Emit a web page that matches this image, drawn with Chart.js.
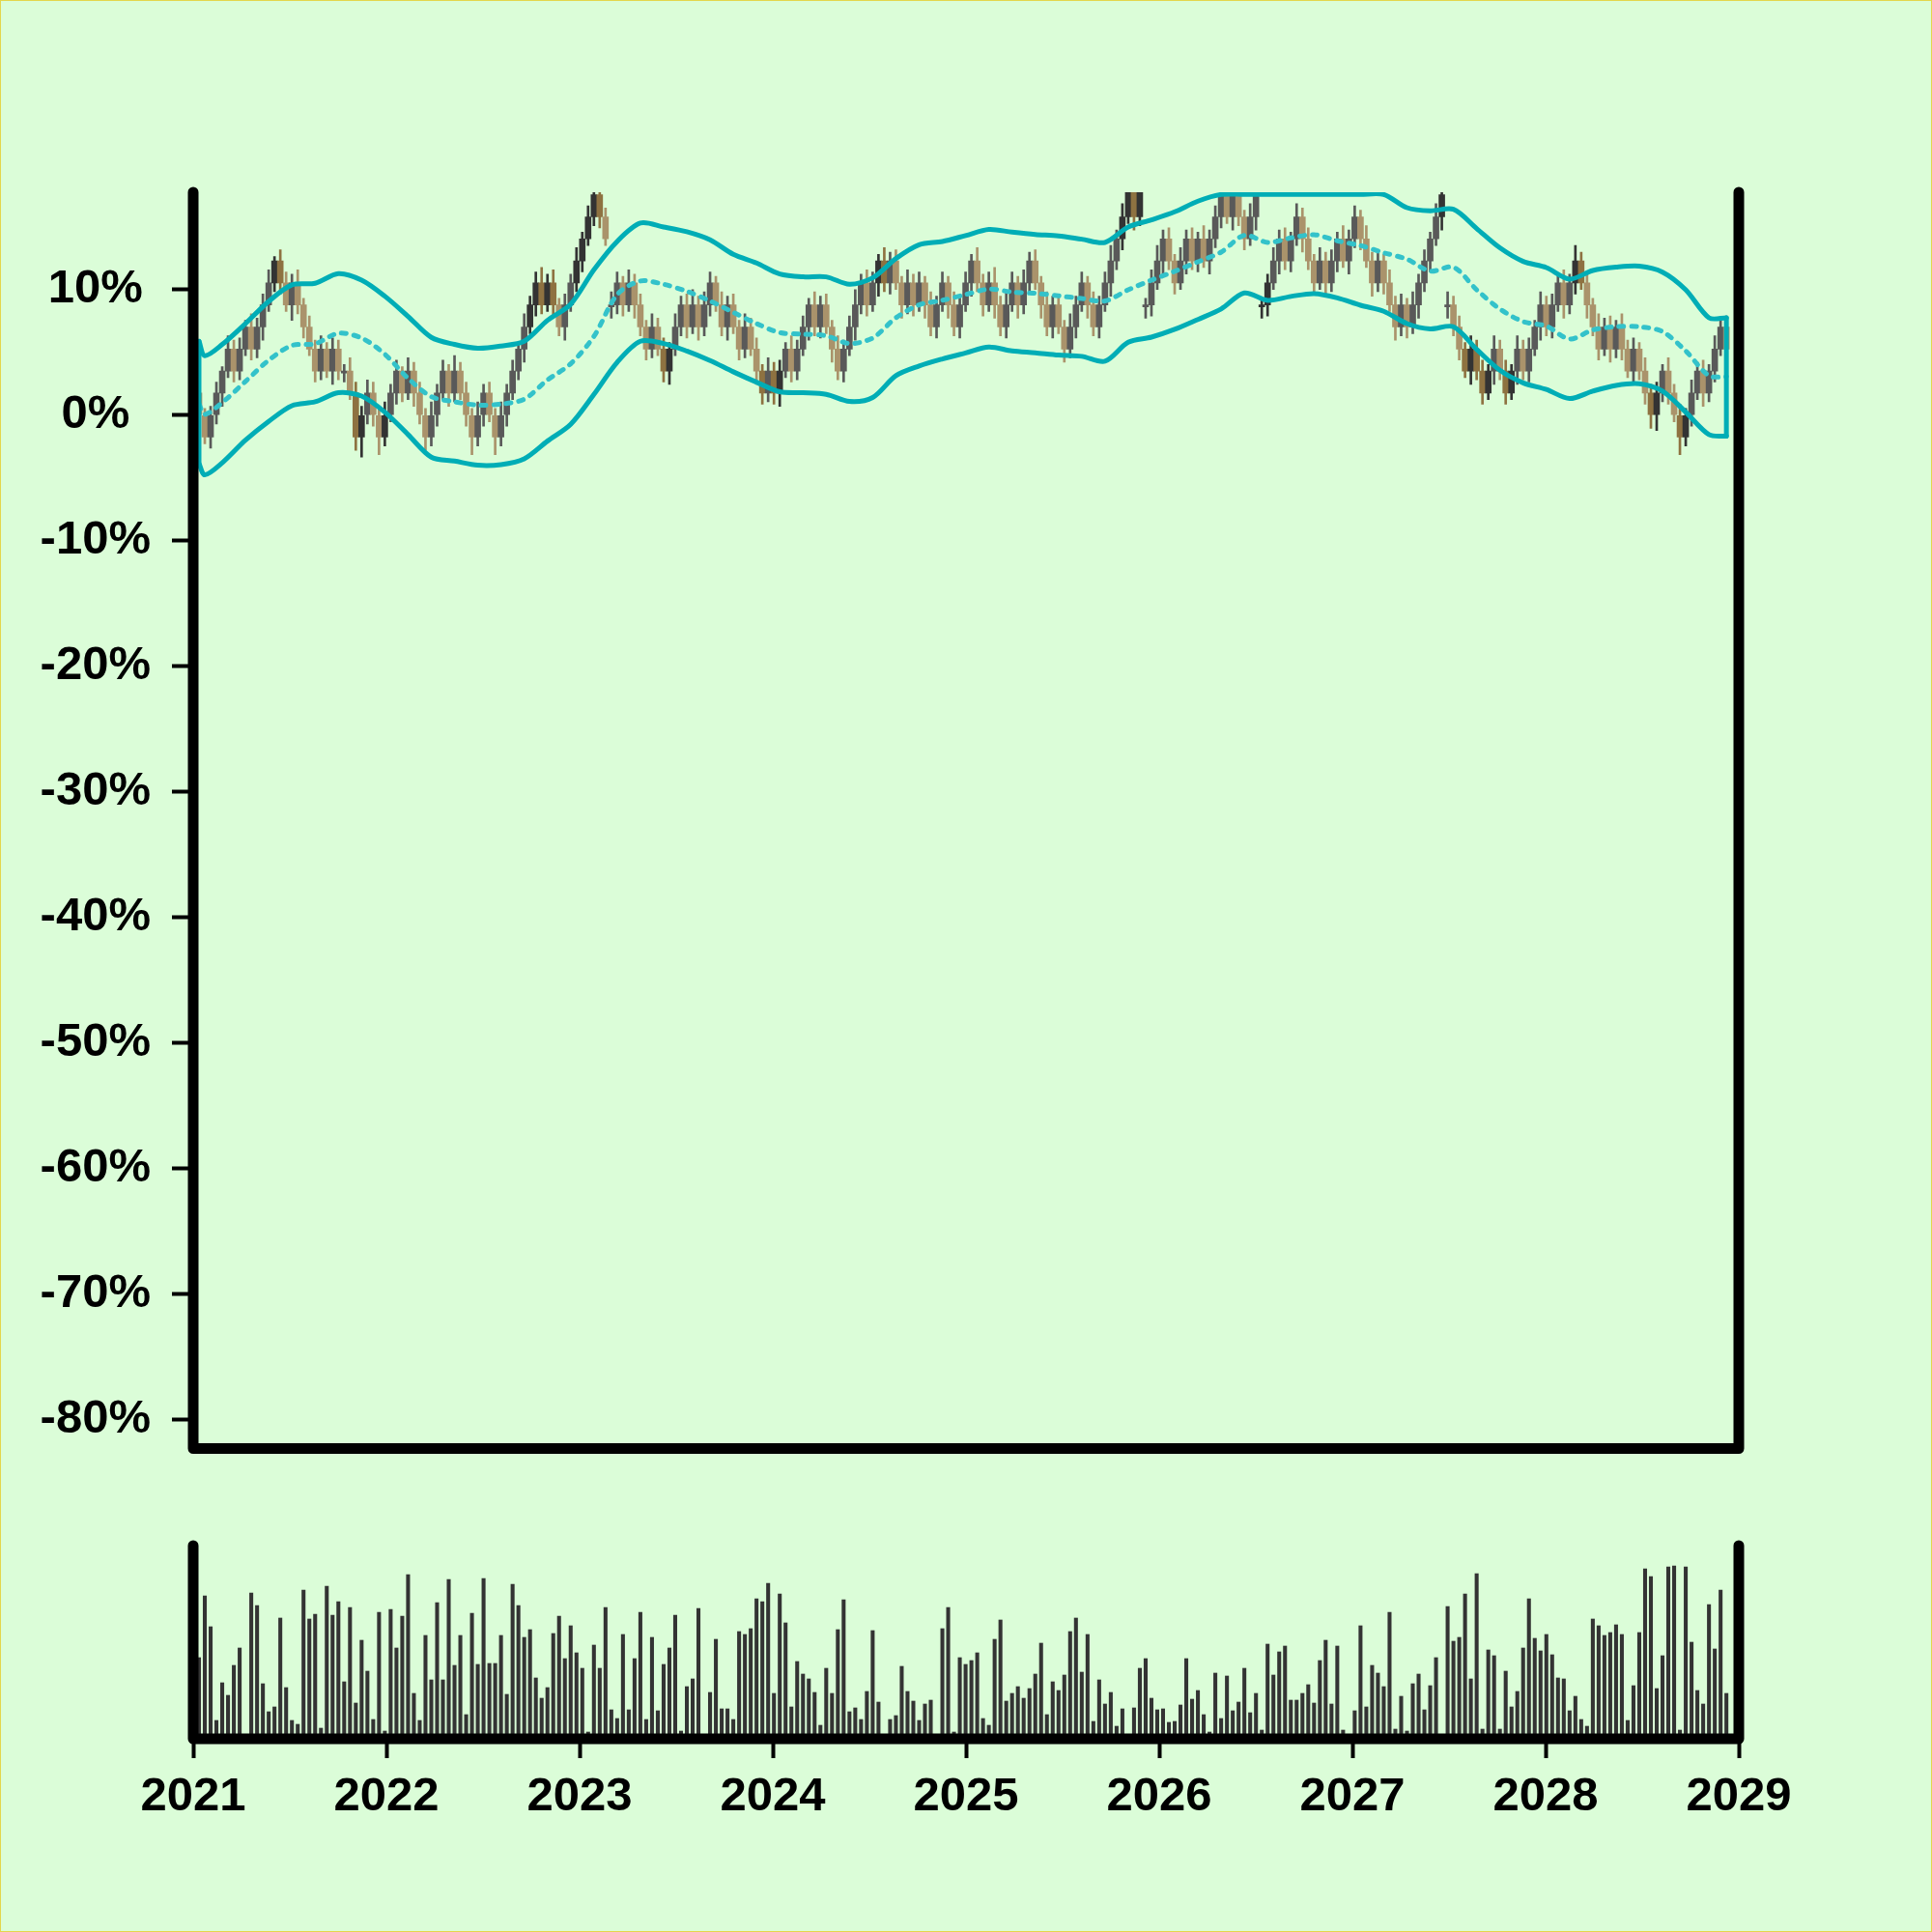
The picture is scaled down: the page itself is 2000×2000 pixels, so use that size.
<!DOCTYPE html>
<html>
<head>
<meta charset="utf-8">
<script src="https://cdn.jsdelivr.net/npm/chart.js@4.4.1/dist/chart.umd.min.js"></script>
<style>
  html, body { margin: 0; padding: 0; background: #dbfdd8; }
  #frame { position: relative; width: 2000px; height: 2000px; overflow: hidden; background: #dbfdd8; }
  #frame canvas { position: absolute; left: 0; }
  #edge { position: absolute; left: 0; top: 0; width: 2000px; height: 2000px; box-sizing: border-box; border: 1px solid #e3d64c; pointer-events: none; }
</style>
</head>
<body>
<div id="frame">
  <canvas id="priceChart" width="2000" height="1560" style="top:0"></canvas>
  <canvas id="volumeChart" width="2000" height="440" style="top:1560px"></canvas>
  <div id="edge"></div>
</div>
<script>
// ---- data ----
const BASE_PRICE = 57;          // price that maps to 0%
const FIRST_DATE = 2021.03;     // decimal year of first bar
const STEP = 0.03006;           // about 11 days between bars

const openPrice = [
  58,57,56,57,58,59,60,59,60,61, 60,61,62,63,64,63,62,63,62,61,
  60,59,60,59,60,59,59,58,56,57, 58,57,56,57,58,59,58,59,58,57,
  56,57,58,59,58,59,58,57,56,57, 58,57,56,57,58,59,60,61,62,63,
  62,63,62,61,62,63,64,65,66,67, 66,62,62,63,62,63,62,61,60,61,
  60,59,60,61,62,61,62,61,62,63, 62,61,62,61,60,61,60,59,58,59,
  58,59,60,59,60,61,62,61,62,61, 60,59,60,61,62,63,62,63,64,63,
  64,63,62,63,62,63,62,61,62,63, 62,61,62,63,64,63,62,63,62,61,
  62,63,62,63,64,63,62,61,62,61, 60,61,62,63,62,61,62,63,64,65,
  66,68,66,62,62,63,64,65,64,63, 64,65,64,65,64,65,66,67,66,67,
  66,65,66,62,62,63,64,65,64,65, 66,65,64,63,64,63,64,65,64,65,
  66,65,64,63,64,63,62,61,62,61, 62,63,64,65,66,62,62,61,60,59,
  60,59,58,59,60,59,58,59,60,59, 60,61,62,61,62,63,62,63,64,63,
  62,61,60,61,60,61,60,59,60,59, 58,57,58,59,58,57,56,57,58,59,
  58,59,60,61
];
const closePrice = [
  57,56,57,58,59,60,59,60,61,60, 61,62,63,64,63,62,63,62,61,60,
  59,60,59,60,59,59,58,56,57,58, 57,56,57,58,59,58,59,58,57,56,
  57,58,59,58,59,58,57,56,57,58, 57,56,57,58,59,60,61,62,63,62,
  63,62,61,62,63,64,65,66,67,66, 65,62,63,62,63,62,61,60,61,60,
  59,60,61,62,61,62,61,62,63,62, 61,62,61,60,61,60,59,58,59,58,
  59,60,59,60,61,62,61,62,61,60, 59,60,61,62,63,62,63,64,63,64,
  63,62,63,62,63,62,61,62,63,62, 61,62,63,64,63,62,63,62,61,62,
  63,62,63,64,63,62,61,62,61,60, 61,62,63,62,61,62,63,64,65,66,
  68,66,68,62,63,64,65,64,63,64, 65,64,65,64,65,66,67,66,67,66,
  65,66,67,62,63,64,65,64,65,66, 65,64,63,64,63,64,65,64,65,66,
  65,64,63,64,63,62,61,62,61,62, 63,64,65,66,67,62,61,60,59,60,
  59,58,59,60,59,58,59,60,59,60, 61,62,61,62,63,62,63,64,63,62,
  61,60,61,60,61,60,59,60,59,58, 57,58,59,58,57,56,57,58,59,58,
  59,60,61,60
];
// wick length above / below the body, in tenths of a price unit
const wickUp = [
  6,3,4,5,2,6,4,5,3,6, 4,5,6,2,5,5,4,6,3,5,
  4,6,3,5,4,3,6,5,4,6, 5,3,6,4,5,2,6,4,5,3,
  6,4,5,3,7,4,5,3,6,4, 5,3,6,4,5,3,6,4,5,7,
  4,6,3,5,4,6,3,5,2,3, 4,6,5,3,6,4,5,3,6,4,
  5,3,6,4,5,7,4,6,5,3, 6,4,5,3,6,4,5,3,6,4,
  5,3,6,4,5,3,6,4,5,3, 6,4,5,7,4,6,5,3,6,4,
  5,3,6,4,5,3,6,4,5,3, 6,4,5,3,6,4,5,7,4,6,
  5,3,6,4,5,3,6,4,5,3, 6,4,5,3,6,4,5,7,4,6,
  5,3,6,3,6,7,4,5,3,6, 4,5,3,6,4,5,3,6,4,5,
  3,6,4,3,4,6,4,5,3,6, 4,5,3,6,4,5,3,6,4,5,
  3,6,4,5,3,6,4,5,3,6, 4,5,3,6,4,6,4,5,3,6,
  4,5,3,6,4,5,3,6,4,5, 3,6,4,5,3,6,4,7,4,5,
  3,6,4,5,3,6,4,5,3,6, 4,5,3,6,4,5,3,6,4,5,
  3,6,4,5
];
const wickDown = [
  4,3,5,4,6,3,5,4,3,5, 4,6,3,4,5,3,7,4,5,3,
  5,4,3,6,4,5,3,6,9,4, 5,8,4,3,5,4,3,6,4,6,
  4,5,3,6,4,3,5,8,4,5, 3,8,4,5,3,4,6,3,5,4,
  3,5,4,6,3,4,5,3,4,5, 3,6,4,5,3,6,4,5,4,3,
  5,6,3,4,5,3,6,4,5,3, 4,6,3,5,4,3,6,5,4,5,
  6,3,5,4,3,6,4,5,3,6, 4,5,3,6,4,5,3,6,4,5,
  3,6,4,5,3,6,4,5,3,6, 4,5,3,6,4,5,3,6,4,5,
  3,6,4,5,3,6,4,5,3,6, 4,5,3,6,4,5,3,6,4,5,
  3,6,4,6,5,3,6,4,5,3, 6,4,5,3,6,4,5,3,6,4,
  5,3,6,6,5,3,6,4,5,3, 6,4,5,3,6,4,5,3,6,4,
  5,3,6,4,5,3,6,4,5,3, 6,4,5,3,6,6,4,5,3,6,
  4,5,3,6,4,5,3,6,4,5, 3,6,4,5,3,6,4,5,3,6,
  4,5,3,6,4,5,3,6,4,5, 6,7,4,5,3,8,4,5,3,6,
  4,5,3,6
];
const volume = [
  84,148,116,19,58,45,76,94,0,151, 138,57,28,33,125,53,19,15,154,124,
  129,11,158,128,142,59,136,37,102,70, 20,131,8,134,94,127,170,47,19,107,
  61,141,61,165,76,107,25,130,77,166, 78,78,107,46,160,138,105,113,63,42,
  53,109,127,83,117,89,73,7,97,73, 136,30,21,108,30,83,131,20,105,29,
  77,94,128,8,54,62,135,0,48,103, 31,31,20,111,108,114,145,142,161,47,
  150,120,33,80,67,62,48,14,73,47, 113,144,28,32,20,49,112,38,0,20,
  24,75,49,39,19,36,40,0,114,136, 7,84,77,81,89,21,14,103,123,39,
  47,54,42,52,67,99,25,59,50,66, 111,125,69,108,18,61,36,48,13,31,
  0,32,73,83,42,30,31,17,18,35, 83,41,50,25,7,68,21,65,29,38,
  73,27,47,9,98,66,90,96,40,40, 47,56,37,81,102,36,96,9,0,29,
  117,33,76,68,54,131,10,44,8,57, 67,30,55,84,0,137,101,105,150,62,
  171,10,92,86,10,70,33,49,94,145, 104,91,108,87,63,62,29,44,20,13,
  124,117,107,110,118,108,19,55,110,176, 168,52,86,178,179,9,178,100,50,36,
  139,93,154,47
];
// bars drawn in the darker shade (close outside the band)
const outsideBand = [13,14,27,28,32,57,58,59,60,61,65,66,67,68,69,80,81,97,99,100,
  117,118,159,160,161,162,183,184,214,218,219,220,221,222,225,226,237,238,250,251,255,256];

// band read at these bar indices (values in %)
const bandAt = [0,1,4,8,12,16,20,24,28,32,36,40,44,48,52,56,60,64,68,72,76,80,84,88,92,96,
  100,104,108,112,116,120,124,128,132,136,140,144,148,152,156,160,164,168,172,176,180,184,
  188,192,196,200,204,208,212,216,220,224,228,232,236,240,244,248,252,256,260,263];
const bandUpper = [5.88,4.73,5.63,7.29,9.06,10.37,10.5,11.27,10.75,9.47,7.86,6.19,5.63,5.32,5.5,
  5.88,7.55,8.83,11.57,13.83,15.29,14.98,14.6,13.96,12.8,12.11,11.24,11.01,11.01,10.42,10.93,
  12.47,13.57,13.83,14.3,14.78,14.57,14.39,14.27,14.01,13.75,14.98,15.55,16.19,17.04,17.6,18.9,
  18.36,18.77,19.06,18.42,18.25,17.59,16.52,16.27,16.39,14.86,13.32,12.24,11.75,10.83,11.52,
  11.78,11.86,11.39,9.98,7.75,7.75];
const bandMiddle = [0.88,0.06,1.0,2.68,4.37,5.55,5.68,6.52,6.14,4.85,2.93,1.47,1.06,0.8,0.88,
  1.27,2.8,4.09,6.27,9.6,10.68,10.42,9.86,9.09,8.19,7.29,6.57,6.45,6.32,5.7,6.14,7.75,8.78,
  9.14,9.6,10.04,9.8,9.7,9.5,9.29,9.09,9.98,10.75,11.45,12.21,12.98,14.32,13.75,14.11,14.37,
  13.88,13.5,12.93,12.42,11.47,11.78,9.98,8.45,7.45,7.09,6.06,6.78,7.04,7.04,6.65,5.11,3.14,3.06];
const bandLower = [-3.86,-4.76,-3.8,-2.0,-0.5,0.75,1.06,1.78,1.52,0.24,-1.55,-3.35,-3.66,-3.99,
  -3.94,-3.48,-2.07,-0.73,1.65,4.2,5.88,5.7,5.1,4.34,3.45,2.62,1.86,1.78,1.65,1.09,1.4,3.14,
  3.91,4.47,4.95,5.42,5.11,4.96,4.78,4.68,4.29,5.8,6.21,6.83,7.62,8.45,9.73,9.14,9.45,9.68,
  9.34,8.75,8.27,7.29,6.86,7.04,5.24,3.57,2.57,2.04,1.32,1.91,2.37,2.5,1.91,0.24,-1.55,-1.68];

const yTicks = [10, 0, -10, -20, -30, -40, -50, -60, -70, -80];
const xTicks = [2021, 2022, 2023, 2024, 2025, 2026, 2027, 2028, 2029];

// ---- build ----
const Y_MIN = -82.3, Y_MAX = 17.75;
const FONT = { family: 'Liberation Sans', weight: 'bold', size: 49 };

const toPct = p => (p / BASE_PRICE - 1) * 100;
const dates = closePrice.map((_, i) => FIRST_DATE + i * STEP);
const isDark = new Set(outsideBand);

const candleColor = closePrice.map((c, i) => {
  const up = c >= openPrice[i];
  if (isDark.has(i)) return up ? '#333333' : '#8e7241';
  return up ? '#595959' : '#aa936b';
});

const bodies = dates.map((t, i) => ({ x: t, y: [toPct(openPrice[i]), toPct(closePrice[i])] }));
const wicks = dates.map((t, i) => {
  const hi = Math.max(openPrice[i], closePrice[i]) + wickUp[i] / 10;
  const lo = Math.min(openPrice[i], closePrice[i]) - wickDown[i] / 10;
  return { x: t, y: [toPct(lo), toPct(hi)] };
});

const topLine = Y_MAX - 0.18;
const upperPts = bandAt.map((i, j) => ({ x: dates[i], y: Math.min(bandUpper[j], topLine) }));
const middlePts = bandAt.map((i, j) => ({ x: dates[i], y: bandMiddle[j] }));
const lowerPts = bandAt.map((i, j) => ({ x: dates[i], y: bandLower[j] }));
const last = bandAt.length - 1;
const endPts = [
  upperPts[0], lowerPts[0], { x: dates[0], y: null },
  upperPts[last], lowerPts[last]
];

const frameLines = {
  id: 'frameLines',
  afterDatasetsDraw(chart) {
    const { ctx, chartArea: a } = chart;
    ctx.save();
    ctx.strokeStyle = '#000';
    ctx.lineWidth = 11;
    ctx.lineCap = 'round';
    ctx.lineJoin = 'round';
    ctx.beginPath();
    ctx.moveTo(a.left, a.top);
    ctx.lineTo(a.left, a.bottom);
    ctx.lineTo(a.right, a.bottom);
    ctx.lineTo(a.right, a.top);
    ctx.stroke();
    ctx.restore();
  }
};

const bandLine = (data, extra) => Object.assign({
  type: 'line', data, borderColor: '#00adb6', borderWidth: 5, pointRadius: 0,
  tension: 0.3, fill: false, order: 0, borderCapStyle: 'round', borderJoinStyle: 'round'
}, extra);

new Chart(document.getElementById('priceChart'), {
  type: 'bar',
  data: {
    datasets: [
      { data: wicks, backgroundColor: candleColor, barThickness: 2, grouped: false, order: 2 },
      { data: bodies, backgroundColor: candleColor, barThickness: 6, grouped: false, order: 1, minBarLength: 2 },
      bandLine(upperPts),
      bandLine(lowerPts),
      bandLine(endPts, { tension: 0, spanGaps: false }),
      bandLine(middlePts, { borderColor: '#33c2ca', borderWidth: 5, borderDash: [5, 8], borderCapStyle: 'round' })
    ]
  },
  options: {
    responsive: false,
    animation: false,
    devicePixelRatio: 1,
    layout: { padding: { left: 0, right: 200, top: 199, bottom: 60.5 } },
    plugins: { legend: { display: false }, tooltip: { enabled: false } },
    scales: {
      x: { type: 'linear', min: 2021, max: 2029, offset: false, display: false, grid: { offset: false } },
      y: {
        type: 'linear', min: Y_MIN, max: Y_MAX, beginAtZero: false,
        afterFit: s => { s.width = 200; },
        afterBuildTicks: s => { s.ticks = yTicks.map(v => ({ value: v })); },
        border: { display: false },
        grid: { drawOnChartArea: false, drawTicks: true, tickLength: 22, tickWidth: 4, tickColor: '#000' },
        ticks: { padding: 22, crossAlign: 'center', color: '#000', font: FONT, callback: v => v + '%' }
      }
    }
  },
  plugins: [frameLines]
});

new Chart(document.getElementById('volumeChart'), {
  type: 'bar',
  data: {
    datasets: [
      { data: dates.map((t, i) => ({ x: t, y: volume[i] })), backgroundColor: '#333333', barThickness: 3.4 }
    ]
  },
  options: {
    responsive: false,
    animation: false,
    devicePixelRatio: 1,
    layout: { padding: { left: 200, right: 200, top: 40, bottom: 0 } },
    plugins: { legend: { display: false }, tooltip: { enabled: false } },
    scales: {
      x: {
        type: 'linear', min: 2021, max: 2029, offset: false,
        afterBuildTicks: s => { s.ticks = xTicks.map(v => ({ value: v })); },
        afterFit: s => { s.height = 200; },
        border: { display: false },
        grid: { drawOnChartArea: false, drawTicks: true, tickLength: 20, tickWidth: 4, tickColor: '#000', offset: false },
        ticks: { padding: 11, color: '#000', font: FONT, maxRotation: 0, autoSkip: false, callback: v => String(v) }
      },
      y: { display: false, min: 0, max: 200 }
    }
  },
  plugins: [frameLines]
});
</script>
</body>
</html>
